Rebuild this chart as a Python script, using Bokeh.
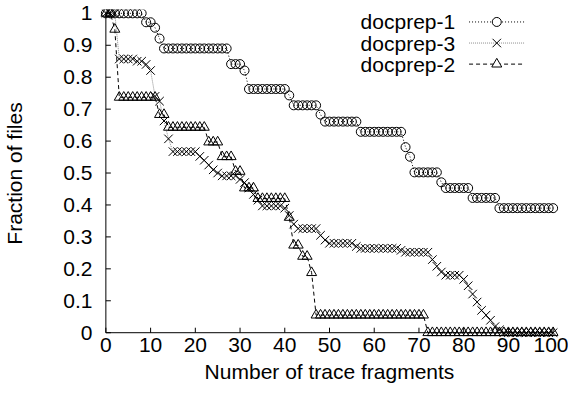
from math import pi
from bokeh.plotting import figure
from bokeh.models import Range1d, FixedTicker, CustomJSTickFormatter, ColumnDataSource
from bokeh.embed import file_html
from bokeh.resources import INLINE
from bokeh.core.properties import value

# ---------------- data ----------------
fragments = list(range(0, 101))

docprep_1 = [
    1.0, 1.0, 1.0, 1.0, 1.0, 1.0, 1.0, 1.0, 1.0,            # 0-8
    0.972, 0.972, 0.955, 0.921,                            # 9-12
    0.89, 0.89, 0.89, 0.89, 0.89, 0.89, 0.89, 0.89,        # 13-20
    0.89, 0.89, 0.89, 0.89, 0.89, 0.89, 0.89,              # 21-27
    0.841, 0.841, 0.841, 0.821,                            # 28-31
    0.763, 0.763, 0.763, 0.763, 0.763, 0.763, 0.763, 0.763, 0.763,  # 32-40
    0.743, 0.712, 0.712, 0.712, 0.712, 0.712, 0.712,       # 41-47
    0.683, 0.661, 0.661, 0.661, 0.661, 0.661, 0.661, 0.661, 0.661,  # 48-56
    0.629, 0.629, 0.629, 0.629, 0.629, 0.629, 0.629, 0.629, 0.629, 0.629,  # 57-66
    0.581, 0.551,                                          # 67-68
    0.502, 0.502, 0.502, 0.502, 0.502, 0.502,              # 69-74
    0.471,                                                 # 75
    0.453, 0.453, 0.453, 0.453, 0.453, 0.453,              # 76-81
    0.422, 0.422, 0.422, 0.422, 0.422, 0.422,              # 82-87
    0.39, 0.39, 0.39, 0.39, 0.39, 0.39, 0.39, 0.39, 0.39, 0.39, 0.39, 0.39, 0.39,  # 88-100
]

docprep_3 = [
    1.0, 1.0, 1.0,                                         # 0-2
    0.857, 0.857, 0.857, 0.857, 0.85, 0.85, 0.84, 0.821,   # 3-10
    0.74, 0.725, 0.663, 0.607,                             # 11-14
    0.567, 0.567, 0.567, 0.567, 0.567, 0.567,              # 15-20
    0.552, 0.54, 0.525, 0.51, 0.5,                         # 21-25
    0.491, 0.491, 0.491, 0.491,                            # 26-29
    0.48, 0.47, 0.453, 0.433, 0.415,                       # 30-34
    0.397, 0.397, 0.397, 0.397, 0.397,                     # 35-39
    0.39, 0.367, 0.34,                                     # 40-42
    0.326, 0.326, 0.326, 0.326, 0.326,                     # 43-47
    0.305, 0.29,                                           # 48-49
    0.28, 0.28, 0.28, 0.28, 0.28, 0.28,                    # 50-55
    0.27,                                                  # 56
    0.264, 0.264, 0.264, 0.264, 0.264, 0.264, 0.264, 0.264, 0.264,  # 57-65
    0.258,                                                 # 66
    0.252, 0.252, 0.252, 0.252, 0.252, 0.252,              # 67-72
    0.229, 0.208, 0.19,                                    # 73-75
    0.18, 0.18, 0.18, 0.18,                                # 76-79
    0.167, 0.147, 0.121, 0.096, 0.07, 0.055, 0.039, 0.019, 0.009,  # 80-88
    0.0, 0.0, 0.0, 0.0, 0.0, 0.0, 0.0, 0.0, 0.0, 0.0, 0.0, 0.0,    # 89-100
]

docprep_2 = [
    1.0, 1.0, 0.95,                                        # 0-2
    0.737, 0.737, 0.737, 0.737, 0.737, 0.737, 0.737, 0.737, 0.737,  # 3-11
    0.683, 0.683,                                          # 12-13
    0.643, 0.643, 0.643, 0.643, 0.643, 0.643, 0.643, 0.643, 0.643,  # 14-22
    0.597, 0.597, 0.597,                                   # 23-25
    0.551, 0.551, 0.551,                                   # 26-28
    0.505, 0.505,                                          # 29-30
    0.453, 0.453, 0.453,                                   # 31-33
    0.42, 0.42, 0.42, 0.42, 0.42, 0.42, 0.42,              # 34-40
    0.361, 0.274, 0.274, 0.239, 0.239, 0.188,              # 41-46
    0.055, 0.055, 0.055, 0.055, 0.055, 0.055, 0.055, 0.055, 0.055, 0.055,  # 47-56
    0.055, 0.055, 0.055, 0.055, 0.055, 0.055, 0.055, 0.055, 0.055, 0.055,  # 57-66
    0.055, 0.055, 0.055, 0.055, 0.055,                     # 67-71
    0.0, 0.0, 0.0, 0.0, 0.0, 0.0, 0.0, 0.0, 0.0, 0.0,      # 72-81
    0.0, 0.0, 0.0, 0.0, 0.0, 0.0, 0.0, 0.0, 0.0, 0.0,      # 82-91
    0.0, 0.0, 0.0, 0.0, 0.0, 0.0, 0.0, 0.0, 0.0,           # 92-100
]

series_names = ["docprep-1", "docprep-3", "docprep-2"]
x_ticks = [0, 10, 20, 30, 40, 50, 60, 70, 80, 90, 100]
y_ticks = [0, 0.1, 0.2, 0.3, 0.4, 0.5, 0.6, 0.7, 0.8, 0.9, 1]
x_title = "Number of trace fragments"
y_title = "Fraction of files"

# ---------------- styling ----------------
FONT = "Liberation Sans"
FS = "21px"

p = figure(width=568, height=391,
           x_range=Range1d(-1.2, 101.2), y_range=Range1d(-0.015, 1.012),
           output_backend="svg", toolbar_location=None,
           min_border_left=97, min_border_right=10,
           min_border_top=9, min_border_bottom=54)
p.outline_line_color = None
p.xgrid.grid_line_color = None
p.ygrid.grid_line_color = None
p.background_fill_color = "white"
p.border_fill_color = "white"

xa = p.xaxis[0]
xa.ticker = FixedTicker(ticks=x_ticks)
xa.axis_label = x_title
xa.axis_label_standoff = 5
xa.major_label_standoff = 0

ya = p.yaxis[0]
ya.ticker = FixedTicker(ticks=y_ticks)
ya.formatter = CustomJSTickFormatter(code="return String(Math.round(tick * 10) / 10);")
ya.axis_label = y_title
ya.axis_label_standoff = 34
ya.major_label_standoff = 8

for ax in (xa, ya):
    ax.axis_line_color = None
    ax.major_tick_line_color = None
    ax.minor_tick_line_color = None
    ax.major_tick_in = 0
    ax.major_tick_out = 0
    ax.major_label_text_font = FONT
    ax.major_label_text_font_size = FS
    ax.major_label_text_color = "black"
    ax.axis_label_text_font = FONT
    ax.axis_label_text_font_size = FS
    ax.axis_label_text_font_style = "normal"
    ax.axis_label_text_color = "black"

# gnuplot-style border (left + bottom) with inward ticks, at x = 0 and y = 0
p.line(x=[x_ticks[0], x_ticks[-1]], y=[y_ticks[0], y_ticks[0]], line_color="black", line_width=1)
p.line(x=[x_ticks[0], x_ticks[0]], y=[y_ticks[0], y_ticks[-1]], line_color="black", line_width=1)
p.ray(x=x_ticks, y=[y_ticks[0]] * len(x_ticks), length=5, length_units="screen",
      angle=pi / 2, line_color="black", line_width=1)
p.ray(x=[x_ticks[0]] * len(y_ticks), y=y_ticks, length=5, length_units="screen",
      angle=0, line_color="black", line_width=1)

styles = [
    dict(marker="circle", size=9, line_color="black", line_dash="1 2"),
    dict(marker="x", size=12, line_color="#8c8c8c", line_dash="1 1"),
    dict(marker="triangle", size=10, line_color="black", line_dash="4 3"),
]

for ys, st in zip([docprep_1, docprep_3, docprep_2], styles):
    src = ColumnDataSource(dict(x=fragments, y=ys))
    p.line("x", "y", source=src, line_color=st["line_color"], line_width=1,
           line_dash=st["line_dash"])
    p.scatter("x", "y", source=src, marker=st["marker"], size=st["size"],
              fill_color=None, line_color="black", line_width=1)

# gnuplot-style key: label on the left, sample on the right
key_rows = [0.973, 0.907, 0.841]
key_text_x = 78.1
key_line_x = (81.2, 93.7)
key_mark_x = 87.4
p.text(x=[key_text_x] * 3, y=key_rows, text=series_names,
       text_align="right", text_baseline="middle",
       text_font=value(FONT), text_font_size=FS, text_color="black")
for yk, st in zip(key_rows, styles):
    p.line(x=list(key_line_x), y=[yk, yk], line_color=st["line_color"],
           line_width=1, line_dash=st["line_dash"])
    p.scatter(x=[key_mark_x], y=[yk], marker=st["marker"], size=st["size"],
              fill_color="white", line_color="black", line_width=1)

open("out.html", "w").write(file_html(p, INLINE))
